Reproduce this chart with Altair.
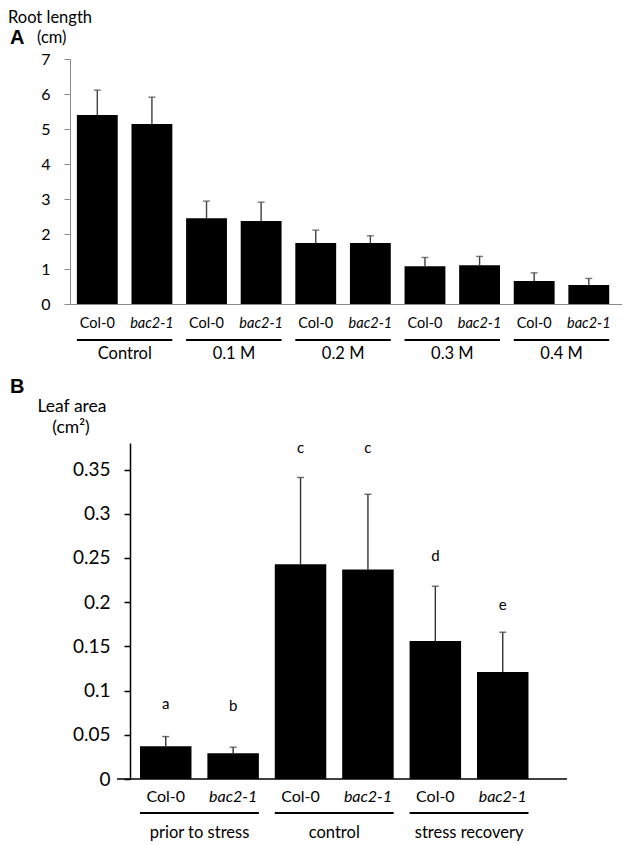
import altair as alt
import pandas as pd

FONT = "Lato"

# ---------------- data ----------------
genotypes = ["Col-0", "bac2-1"]

a_groups = ["Control", "0.1 M", "0.2 M", "0.3 M", "0.4 M"]
a_means = [5.40, 5.14, 2.45, 2.37, 1.74, 1.74, 1.08, 1.11, 0.66, 0.54]
a_sd = [0.71, 0.77, 0.49, 0.54, 0.37, 0.21, 0.25, 0.25, 0.23, 0.19]
a_ticks = [0, 1, 2, 3, 4, 5, 6, 7]

b_groups = ["prior to stress", "control", "stress recovery"]
b_means = [0.037, 0.029, 0.243, 0.237, 0.156, 0.121]
b_sd = [0.011, 0.007, 0.098, 0.085, 0.062, 0.045]
b_letters = ["a", "b", "c", "c", "d", "e"]
b_letter_y = [0.079, 0.077, 0.369, 0.369, 0.247, 0.191]
b_ticks = [0, 0.05, 0.1, 0.15, 0.2, 0.25, 0.3, 0.35]


def build(groups, means, sds, letters=None, letter_y=None):
    rows = []
    i = 0
    for g in groups:
        for gt in genotypes:
            r = {"id": f"{g}|{gt}", "group": g, "genotype": gt,
                 "mean": means[i], "top": means[i] + sds[i]}
            if letters:
                r["letter"] = letters[i]
                r["ly"] = letter_y[i]
            rows.append(r)
            i += 1
    df = pd.DataFrame(rows)
    gdf = pd.DataFrame({"group": groups,
                        "first": [f"{g}|{genotypes[0]}" for g in groups],
                        "last": [f"{g}|{genotypes[-1]}" for g in groups]})
    return df, gdf


def panel(df, gdf, width, height, ydom, yaxis, xscale, xdomain,
          err_color, lab_size, lab_y, line_y, grp_y, grp_size, half_gap, texts, extra=None):
    ids = list(df["id"])
    sc = alt.Scale(domain=ids, **xscale)
    xax = alt.Axis(labels=False, ticks=False, title=None, **xdomain)
    x = alt.X("id:N", scale=sc, axis=xax)
    ysc = alt.Scale(domain=ydom, nice=False, zero=True)

    def Y(field):
        return alt.Y(field, scale=ysc, axis=yaxis)

    bars = alt.Chart(df).mark_bar(color="black").encode(x=x, y=Y("mean:Q"))
    err = alt.Chart(df).mark_rule(color=err_color, strokeWidth=1.4).encode(
        x=x, y=Y("mean:Q"), y2="top:Q")
    cap = alt.Chart(df).mark_tick(color=err_color, size=7, thickness=1.4).encode(
        x=x, y=Y("top:Q"))
    lab1 = alt.Chart(df).transform_filter(alt.datum.genotype == "Col-0").mark_text(
        font=FONT, fontSize=lab_size, baseline="middle", color="black").encode(
        x=x, y=alt.value(lab_y), text="genotype:N")
    lab2 = alt.Chart(df).transform_filter(alt.datum.genotype != "Col-0").mark_text(
        font=FONT, fontSize=lab_size, baseline="middle", fontStyle="italic",
        color="black").encode(
        x=x, y=alt.value(lab_y), text="genotype:N")
    glines = alt.Chart(gdf).mark_rule(color="black", strokeWidth=2).encode(
        x=alt.X("first:N", scale=sc, axis=xax, bandPosition=0),
        x2=alt.X2("last:N", bandPosition=1),
        y=alt.value(line_y))
    glabels = alt.Chart(gdf).mark_text(font=FONT, fontSize=grp_size, baseline="middle",
                                       dx=half_gap, color="black").encode(
        x=alt.X("first:N", scale=sc, axis=xax, bandPosition=1),
        y=alt.value(grp_y), text="group:N")
    layers = [bars, err, cap, lab1, lab2, glines, glabels]
    for (t, tx, ty, size, weight, fnt, al) in texts:
        layers.append(alt.Chart(pd.DataFrame({"t": [t]})).mark_text(
            font=fnt, fontSize=size, fontWeight=weight, align=al, baseline="middle",
            color="black").encode(x=alt.value(tx), y=alt.value(ty), text="t:N"))
    if extra:
        layers += extra(x, Y)
    return alt.layer(*layers).properties(width=width, height=height)


# ---------------- panel A ----------------
dfa, gdfa = build(a_groups, a_means, a_sd)
yax_a = alt.Axis(values=a_ticks, tickCount=8, title=None, grid=False, domainColor="#8a8a8a",
                 tickColor="#8a8a8a", tickSize=6, labelFont=FONT, labelFontSize=16,
                 labelColor="black", labelPadding=14, labelOverlap=False)
texts_a = [
    ("Root length", -62, -41, 16.5, "normal", FONT, "left"),
    ("A", -60, -21, 20, "bold", "Liberation Sans", "left"),
    ("(cm)", -33, -21, 16.5, "normal", FONT, "left"),
]
chart_a = panel(dfa, gdfa, 552, 245, [0, 7], yax_a,
                dict(paddingInner=0.252, paddingOuter=0.18, align=0.35),
                dict(domainColor="#8a8a8a", domainWidth=1),
                "#404040", 14.5, 265, 281, 295, 16.5, 7, texts_a)

# ---------------- panel B ----------------
dfb, gdfb = build(b_groups, b_means, b_sd, b_letters, b_letter_y)
yax_b = alt.Axis(values=b_ticks, format=".2~f", title=None, grid=False, offset=-60,
                 domainColor="black", domainWidth=1.5, tickColor="black", tickWidth=1.5,
                 tickSize=6, labelFont=FONT, labelFontSize=19, labelColor="black",
                 labelPadding=14, labelOverlap=False)
texts_b = [
    ("B", -60, -56, 20, "bold", "Liberation Sans", "left"),
    ("Leaf area", 2, -36, 17.5, "normal", FONT, "center"),
    ("(cm²)", 1, -15, 17.5, "normal", FONT, "center"),
]


def extra_b(x, Y):
    letters = alt.Chart(dfb).mark_text(font=FONT, fontSize=15, baseline="alphabetic",
                                       color="black").encode(
        x=x, y=Y("ly:Q"), text="letter:N")
    base = alt.Chart(pd.DataFrame({"z": [0]})).mark_rule(color="black", strokeWidth=1.5).encode(
        x=alt.value(47), x2=alt.value(497), y=Y("z:Q"))
    return [letters, base]


chart_b = panel(dfb, gdfb, 497, 336, [0, 0.38], yax_b,
                dict(paddingInner=0.236, paddingOuter=0.805, align=0.645),
                dict(domain=False),
                "#333333", 16, 354, 370, 390, 16.5, 8, texts_b, extra_b)

chart = alt.vconcat(chart_a, chart_b, spacing=14).properties(
    padding={"left": 0, "top": 2, "right": 0, "bottom": 0}).configure_view(stroke=None)

chart.save("out.html", embed_options={"renderer": "svg", "actions": False})
